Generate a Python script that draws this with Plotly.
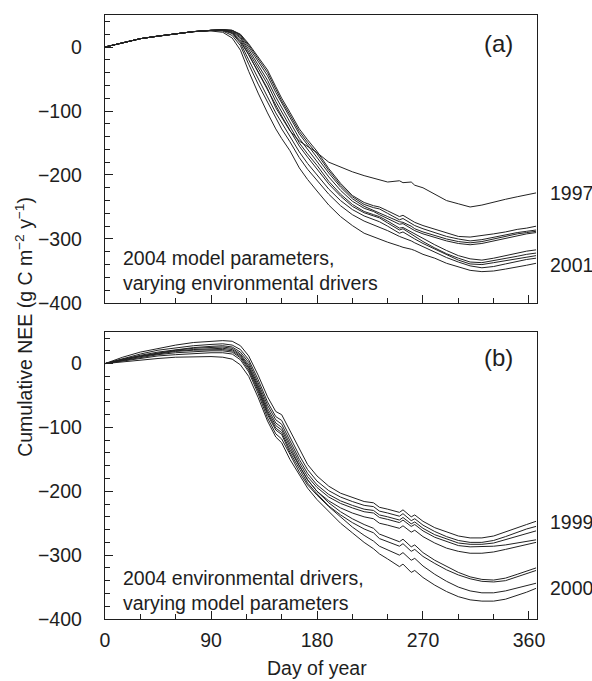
import plotly.graph_objects as go

# ---------------- data ----------------
DAYS = [0, 15, 30, 45, 60, 75, 90, 100, 108, 115, 122, 130, 138, 145, 150, 157,
        165, 172, 180, 190, 200, 210, 220, 228, 233, 240, 250, 253, 260, 263, 270,
        280, 290, 300, 310, 320, 330, 340, 350, 358, 366]

# Panel (a): 2004 model parameters, varying environmental drivers
A_1997 = [0, 6, 13, 17, 21, 24, 26, 26, 22, 8, -12, -38, -65, -95, -110, -131,
          -147, -156, -165, -180, -188, -195, -201, -205, -207, -211, -209, -212, -211, -216, -220,
          -230, -240, -245, -250, -247, -242, -238, -234, -231, -228]
A_M1 = [0, 6, 13, 17, 21, 24, 26, 27, 26, 20, 5, -15, -36, -62, -80, -102,
        -128, -145, -163, -190, -213, -232, -243, -248, -250, -256, -265, -263, -270, -274, -279,
        -285, -291, -296, -297, -295, -292, -289, -285, -283, -280]
A_M2 = [0, 6, 13, 17, 21, 24, 26, 27, 26, 19, 3, -18, -40, -66, -84, -106,
        -132, -149, -167, -193, -216, -234, -246, -251, -253, -260, -270, -268, -276, -279, -284,
        -290, -296, -300, -303, -301, -297, -293, -290, -288, -286]
A_M3 = [0, 6, 13, 17, 21, 24, 26, 27, 26, 18, 0, -22, -45, -71, -88, -110,
        -136, -153, -171, -197, -219, -237, -249, -255, -259, -265, -273, -274, -280, -284, -289,
        -295, -300, -304, -306, -304, -300, -296, -292, -290, -288]
A_M4 = [0, 6, 13, 17, 21, 24, 26, 27, 25, 16, -4, -28, -52, -78, -95, -117,
        -143, -160, -178, -203, -224, -241, -252, -257, -262, -268, -277, -276, -283, -287, -292,
        -298, -303, -307, -309, -307, -303, -299, -295, -292, -290]
A_L1 = [0, 6, 13, 17, 21, 24, 26, 27, 24, 14, -8, -33, -58, -85, -101, -124,
        -150, -167, -185, -210, -230, -246, -257, -262, -265, -272, -283, -282, -289, -293, -300,
        -309, -318, -326, -331, -333, -330, -326, -322, -319, -317]
A_L2 = [0, 6, 13, 17, 21, 24, 26, 26, 23, 11, -12, -40, -66, -92, -108, -130,
        -155, -172, -190, -214, -233, -249, -259, -264, -267, -275, -286, -284, -292, -296, -304,
        -314, -323, -330, -336, -337, -334, -330, -327, -324, -322]
A_L3 = [0, 6, 13, 17, 21, 24, 26, 26, 21, 6, -20, -50, -78, -103, -118, -140,
        -164, -182, -200, -222, -240, -254, -264, -270, -273, -280, -291, -289, -297, -300, -307,
        -316, -325, -333, -339, -340, -337, -334, -331, -328, -326]
A_L4 = [0, 6, 13, 17, 21, 24, 26, 25, 18, 2, -27, -58, -86, -112, -128, -148,
        -173, -191, -208, -230, -248, -262, -272, -278, -281, -287, -296, -298, -303, -306, -312,
        -320, -329, -336, -342, -345, -343, -339, -335, -332, -330]
A_L5 = [0, 6, 13, 17, 21, 24, 25, 23, 14, -5, -38, -72, -103, -128, -143, -162,
        -189, -207, -225, -247, -265, -279, -291, -297, -301, -305, -311, -313, -316, -318, -324,
        -330, -338, -344, -349, -351, -350, -347, -344, -341, -338]

# Panel (b): 2004 environmental drivers, varying model parameters
B_U1 = [0, 10, 18, 24, 29, 33, 35, 36, 35, 28, 12, -18, -52, -75, -80, -105,
        -135, -158, -176, -192, -203, -210, -216, -218, -225, -228, -233, -229, -240, -237, -247,
        -257, -264, -270, -273, -273, -270, -264, -257, -252, -247]
B_U2 = [0, 8, 15, 21, 25, 28, 30, 31, 29, 22, 6, -25, -60, -83, -89, -114,
        -144, -166, -184, -199, -209, -216, -222, -224, -231, -234, -239, -235, -246, -243, -253,
        -263, -271, -277, -280, -280, -277, -271, -264, -259, -255]
B_U3 = [0, 7, 13, 18, 22, 25, 27, 28, 26, 18, 2, -30, -65, -88, -95, -120,
        -150, -172, -190, -205, -215, -222, -228, -230, -237, -240, -245, -241, -251, -248, -258,
        -268, -275, -281, -283, -283, -281, -276, -270, -266, -262]
B_U4 = [0, 7, 12, 17, 21, 24, 25, 26, 24, 15, -2, -34, -70, -93, -100, -125,
        -155, -177, -194, -209, -219, -226, -232, -234, -241, -244, -249, -245, -255, -252, -262,
        -272, -279, -285, -287, -287, -286, -284, -281, -279, -276]
B_U5 = [0, 6, 11, 16, 20, 22, 23, 24, 22, 13, -5, -37, -74, -97, -104, -130,
        -160, -182, -200, -215, -226, -234, -240, -243, -250, -253, -258, -254, -264, -261, -271,
        -281, -289, -294, -297, -297, -295, -291, -287, -284, -280]
B_L1 = [0, 6, 11, 15, 19, 21, 22, 22, 20, 11, -7, -40, -77, -101, -108, -135,
        -160, -182, -200, -218, -232, -243, -252, -258, -267, -272, -279, -275, -287, -284, -296,
        -308, -318, -327, -334, -338, -339, -336, -330, -325, -320]
B_L2 = [0, 5, 10, 14, 17, 19, 20, 20, 18, 9, -10, -43, -80, -104, -111, -139,
        -164, -187, -204, -223, -237, -249, -259, -265, -274, -279, -286, -282, -294, -291, -302,
        -313, -323, -331, -337, -341, -342, -340, -334, -329, -324]
B_L3 = [0, 4, 8, 12, 14, 16, 17, 17, 15, 6, -13, -47, -85, -110, -118, -142,
        -170, -190, -206, -224, -240, -256, -269, -278, -286, -292, -300, -296, -308, -305, -317,
        -330, -341, -350, -356, -359, -359, -356, -351, -348, -344]
B_L4 = [0, 3, 6, 8, 10, 11, 11, 10, 7, -2, -20, -53, -90, -115, -124, -150,
        -175, -195, -213, -232, -250, -265, -280, -290, -298, -306, -318, -314, -327, -324, -335,
        -347, -357, -365, -370, -372, -372, -369, -363, -358, -352]

PANEL_A = [A_1997, A_M1, A_M2, A_M3, A_M4, A_L1, A_L2, A_L3, A_L4, A_L5]
PANEL_B = [B_U1, B_U2, B_U3, B_U4, B_U5, B_L1, B_L2, B_L3, B_L4]

X_TICKS = [0, 90, 180, 270, 360]
Y_TICKS = [-400, -300, -200, -100, 0]

# ---------------- figure ----------------
FONT = "Liberation Sans, Arial, Helvetica, sans-serif"
INK = "#1e1e1e"
LINE = "#222222"

fig = go.Figure()
for ys in PANEL_A:
    fig.add_trace(go.Scatter(x=DAYS, y=ys, mode="lines", xaxis="x", yaxis="y",
                             line=dict(color=LINE, width=1), hoverinfo="skip"))
for ys in PANEL_B:
    fig.add_trace(go.Scatter(x=DAYS, y=ys, mode="lines", xaxis="x2", yaxis="y2",
                             line=dict(color=LINE, width=1), hoverinfo="skip"))

def xax(show_labels, anchor):
    return dict(domain=[0, 1], anchor=anchor, range=[0, 366.8],
                tickmode="array", tickvals=X_TICKS, ticktext=[str(v) for v in X_TICKS],
                showticklabels=show_labels, ticks="inside", ticklen=8, tickwidth=1.2,
                tickcolor=INK, ticklabelstandoff=3,
                minor=dict(tickmode="linear", tick0=0, dtick=30, ticks="inside",
                           ticklen=4.5, tickwidth=1, tickcolor=INK),
                showline=True, linecolor=INK, linewidth=1.4, mirror=True,
                showgrid=False, zeroline=False,
                tickfont=dict(family=FONT, size=19.5, color=INK))

def yax(domain, anchor):
    return dict(domain=domain, anchor=anchor, range=[-400, 50],
                tickmode="array", tickvals=Y_TICKS,
                ticks="inside", ticklen=8, tickwidth=1.2, tickcolor=INK,
                ticklabelstandoff=18,
                minor=dict(tickmode="linear", tick0=0, dtick=20, ticks="inside",
                           ticklen=4.5, tickwidth=1, tickcolor=INK),
                showline=True, linecolor=INK, linewidth=1.4, mirror=True,
                showgrid=False, zeroline=False,
                tickfont=dict(family=FONT, size=19.5, color=INK))

fig.update_layout(
    width=592, height=681,
    margin=dict(l=105, r=55, t=15, b=62),
    paper_bgcolor="white", plot_bgcolor="white",
    showlegend=False,
    font=dict(family=FONT, size=19.5, color=INK),
    xaxis=xax(False, "y"),
    yaxis=yax([0.5232, 1.0], "x"),
    xaxis2=xax(True, "y2"),
    yaxis2=yax([0.0, 0.4757], "x2"),
)

ann_font = dict(family=FONT, size=19.5, color=INK)
annotations = [
    dict(text="(a)", x=334, y=5, xref="x", yref="y", showarrow=False,
         font=dict(family=FONT, size=24, color=INK)),
    dict(text="(b)", x=334, y=10, xref="x2", yref="y2", showarrow=False,
         font=dict(family=FONT, size=24, color=INK)),
    dict(text="2004 model parameters,<br>varying environmental drivers",
         x=13.8, y=-350, xref="x", yref="y", xanchor="left", yanchor="middle",
         align="left", showarrow=False, font=ann_font),
    dict(text="2004 environmental drivers,<br>varying model parameters",
         x=13.8, y=-355, xref="x2", yref="y2", xanchor="left", yanchor="middle",
         align="left", showarrow=False, font=ann_font),
    dict(text="1997", x=1.0255, y=-228, xref="paper", yref="y", xanchor="left",
         showarrow=False, font=ann_font),
    dict(text="2001", x=1.0255, y=-341, xref="paper", yref="y", xanchor="left",
         showarrow=False, font=ann_font),
    dict(text="1999", x=1.0255, y=-248, xref="paper", yref="y2", xanchor="left",
         showarrow=False, font=ann_font),
    dict(text="2000", x=1.0255, y=-351, xref="paper", yref="y2", xanchor="left",
         showarrow=False, font=ann_font),
    dict(text="Day of year", x=0.49, y=-0.0810, xref="paper", yref="paper",
         xanchor="center", yanchor="middle", showarrow=False,
         font=dict(family=FONT, size=19.5, color=INK)),
    dict(text="Cumulative NEE (g C m<sup>\u22122</sup> y<sup>\u22121</sup>)",
         x=-0.188, y=0.4834, xref="paper", yref="paper", textangle=-90,
         xanchor="center", yanchor="middle", showarrow=False,
         font=dict(family=FONT, size=19.5, color=INK)),
]
fig.update_layout(annotations=annotations)

fig.write_html("out.html")
